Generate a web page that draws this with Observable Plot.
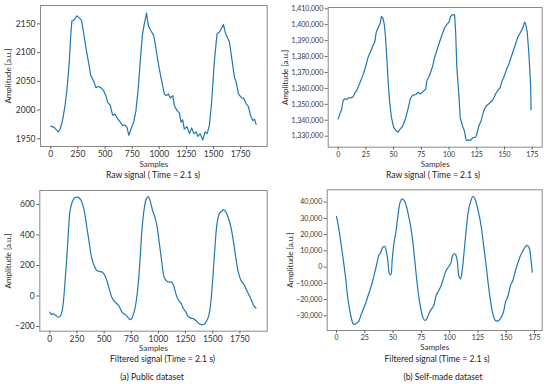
<!DOCTYPE html>
<html><head><meta charset="utf-8">
<script src="https://cdn.jsdelivr.net/npm/d3@7"></script>
<script src="https://cdn.jsdelivr.net/npm/@observablehq/plot@0.6"></script>
<style>
body{margin:0;background:#fff;}
#root{position:relative;width:550px;height:384px;font-family:Lato,"Open Sans",sans-serif;color:#222;overflow:hidden;}
.p{position:absolute;}
.cap{position:absolute;transform:translate(-50%,-50%);white-space:nowrap;font-size:8.6px;line-height:1;}
</style></head><body><div id="root"></div>
<script>
// ---- Data ----
const rawPubX = [0,31,68,86,108,129,148,169,185,194,215,240,265,283,302,323,345,369,394,416,437,462,486,508,523,548,570,591,616,640,662,683,702,720,739,764,785,807,825,844,862,883,899,923,948,960,979,1000,1022,1047,1062,1084,1102,1124,1139,1164,1185,1201,1216,1231,1256,1278,1299,1318,1339,1355,1376,1401,1422,1441,1462,1484,1508,1533,1555,1570,1592,1607,1626,1647,1669,1693,1709,1730,1755,1779,1801,1822,1841,1862,1878,1893];
const rawPubY = [1972,1970,1962,1967,1982,2005,2034,2080,2133,2155,2157,2164,2160,2156,2135,2109,2086,2060,2051,2039,2041,2039,2034,2025,2014,2008,1991,1993,1985,1979,1973,1974,1970,1956,1967,1979,1999,2040,2086,2130,2150,2169,2147,2138,2130,2118,2095,2072,2051,2028,2025,2028,2021,2025,2008,1999,1995,1979,1983,1967,1971,1959,1969,1959,1962,1954,1959,1948,1962,1959,1973,2017,2086,2133,2136,2141,2149,2136,2127,2118,2089,2057,2049,2028,2022,2020,2011,2006,1991,1982,1984,1975];

const rawSelfX = [0,1.5,3,4.5,6,7.5,9,11,13.2,15,17,18.6,21,23,25,27,29,31,33,34.3,36,38,39,40.3,41.5,42.7,44,45,46.6,48,50,52,54,56,58,60.7,63,65,67,70,72,74,76,79,80,82,85,87,89,91.4,94,96,98,100,101.3,103,105,106,107,109,110,112,113.7,115.5,117,119,121.5,124,125,127,129,130.5,132,134,136.5,139,140,142,144,146,148,150,152,154,156,158,160.6,162,164.5,166.6,168,169,170.5,172,173.5,174];
const rawSelfY = [1340900,1344000,1346600,1352400,1353500,1353000,1354100,1354100,1354500,1357000,1359100,1361800,1366000,1369600,1374400,1379600,1382800,1386300,1389100,1395300,1398100,1401000,1405200,1404300,1400600,1392200,1377500,1365000,1350300,1341900,1335700,1333600,1332500,1334600,1336100,1340900,1347200,1353500,1355600,1356200,1357600,1356600,1357600,1359700,1365000,1367500,1373400,1379600,1383800,1389100,1394300,1398100,1400200,1401600,1405200,1406200,1406200,1394300,1373400,1354500,1341900,1336700,1333600,1327300,1327700,1327300,1329000,1329400,1331500,1336700,1339900,1344000,1347200,1349300,1350700,1352400,1353500,1356600,1358700,1360400,1365000,1368100,1372300,1375400,1379600,1383800,1389100,1392200,1395300,1398100,1401600,1400600,1395300,1381700,1362900,1346600];

const filtPubX = [0,15,34,55,77,95,111,126,141,157,172,187,209,230,255,279,301,322,341,362,384,408,433,454,485,507,525,547,571,593,617,639,660,679,700,722,740,752,771,792,814,832,850,869,888,906,924,946,967,986,1007,1029,1053,1078,1099,1121,1139,1161,1182,1207,1231,1253,1274,1299,1324,1345,1367,1391,1416,1437,1459,1477,1499,1520,1539,1560,1582,1600,1621,1643,1667,1691,1714,1735,1760,1784,1806,1827,1852,1876,1898];
const filtPubY = [-106,-121,-117,-128,-139,-134,-106,-30,102,255,430,561,622,644,648,637,604,539,451,353,255,200,167,161,156,134,102,47,-8,-34,-51,-69,-100,-117,-124,-143,-156,-150,-117,-51,80,255,451,572,637,652,622,561,517,462,353,233,123,97,91,91,69,14,-25,-47,-84,-106,-134,-145,-150,-161,-178,-187,-187,-172,-139,-73,102,320,473,539,556,567,550,513,451,353,244,156,102,80,47,14,-19,-62,-80];

const filtSelfX = [0,2.1,3.8,5.9,8,9.7,11.5,13.3,14.7,16.2,17.7,19.7,21.5,23.3,25.6,28,30,32.1,33.9,36,37.4,39.2,41,42.7,44.2,45.7,46.8,48,49.2,50.7,52.7,54.5,56.3,58,59.8,61.6,63.3,65.4,67.5,69.2,71,72.8,74.5,76.3,78.1,79.8,81.6,84,86,88.1,90.5,92.5,94.9,96.9,99.3,101.1,102.2,103.7,105.2,106.7,108.1,109.6,111.1,112.6,114.6,116.4,118.4,120.5,122.3,124.3,126.4,128.2,130.2,132.3,134.1,136.1,138.2,140,142,144.1,146.4,147.9,149.4,151.7,153.8,155.9,158.2,160.6,162.6,164.7,167,168.8,170.6,171.8,173];
const filtSelfY = [31170,23580,15360,5100,-6190,-17480,-25700,-31860,-34930,-35340,-34520,-33290,-29800,-26720,-22620,-17480,-13380,-8250,-3110,3050,7150,9200,12280,12690,9200,2020,-4140,-4750,4070,14340,22550,32810,40000,42050,41030,37950,32810,25630,15360,4070,-8250,-18510,-25700,-30830,-32880,-31860,-28780,-25700,-23640,-17480,-14400,-11320,-6190,-2090,380,2430,6130,8180,7770,4070,-5170,-7220,-2090,8180,22550,33840,40000,43490,42050,37330,30760,23580,12280,990,-10300,-20560,-28780,-32470,-33290,-32470,-29800,-26720,-21590,-17480,-11320,-8250,-2090,3050,7150,9820,12690,13310,11260,5100,-3110];

const pubXTicks = [0,250,500,750,1000,1250,1500,1750];
const selfXTicks = [0,25,50,75,100,125,150,175];
const rawPubYTicks = [1950,2000,2050,2100,2150];
const rawSelfYTicks = [1330000,1340000,1350000,1360000,1370000,1380000,1390000,1400000,1410000];
const filtPubYTicks = [-200,0,200,400,600];
const filtSelfYTicks = [-30000,-20000,-10000,0,10000,20000,30000,40000];

const xLabel = "Samples";
const yLabel = "Amplitude [a.u.]";
const topCaption = "Raw signal ( Time = 2.1 s)";
const bottomCaption = "Filtered signal (Time = 2.1 s)";
const subCaptions = ["(a) Public dataset", "(b) Self-made dataset"];

// ---- Drawing ----
const root = document.getElementById("root");
const comma = d3.format(",");
const plain = d => String(d).replace("-", "\u2212");

function panel(o) {
  const data = o.x.map((d, i) => ({x: d, y: o.y[i]}));
  const svg = Plot.plot({
    width: 275, height: 170,
    marginLeft: o.m[0], marginTop: o.m[1], marginRight: o.m[2], marginBottom: o.m[3],
    style: {fontFamily: "Lato, 'Open Sans', sans-serif", fontSize: o.fs + "px", color: "#333", background: "transparent", overflow: "visible"},
    x: {domain: o.xd},
    y: {domain: o.yd},
    marks: [
      Plot.line(data, {x: "x", y: "y", stroke: "#1f77b4", strokeWidth: 1.2, curve: o.curve}),
      Plot.frame({stroke: "#8a8a8a", strokeWidth: 1}),
      Plot.axisX({ticks: o.xt, tickSize: 3, tickPadding: 1.5, stroke: "#666", tickFormat: plain, label: null}),
      Plot.axisX({ticks: [], label: xLabel, labelAnchor: "center", labelArrow: "none", labelOffset: o.lx, fontSize: 8}),
      Plot.axisY({ticks: o.yt, tickSize: 3, tickPadding: 2, stroke: "#666", tickFormat: o.fmt, label: null}),
      Plot.axisY({ticks: [], label: yLabel, labelAnchor: "center", labelArrow: "none", labelOffset: o.ly, fontSize: 8})
    ]
  });
  svg.classList.add("p");
  svg.style.left = o.left + "px";
  svg.style.top = o.top + "px";
  root.appendChild(svg);
}

function caption(text, cx, cy) {
  const d = document.createElement("div");
  d.className = "cap";
  d.textContent = text;
  d.style.left = cx + "px";
  d.style.top = cy + "px";
  root.appendChild(d);
}

panel({x: rawPubX, y: rawPubY, xd: [-95, 1995], yd: [1936.6, 2182], xt: pubXTicks, yt: rawPubYTicks,
  fmt: plain, left: 0, top: 0, m: [40, 5, 8.3, 24], fs: 8.5, curve: "linear", lx: 20.5, ly: 35});
panel({x: rawSelfX, y: rawSelfY, xd: [-9, 184], yd: [1323090, 1410800], xt: selfXTicks, yt: rawSelfYTicks,
  fmt: comma, left: 275, top: 0, m: [52.7, 7, 8.3, 23.3], fs: 7, curve: "linear", lx: 19.5, ly: 45.7});
panel({x: filtPubX, y: filtPubY, xd: [-92, 2001], yd: [-231, 692], xt: pubXTicks, yt: filtPubYTicks,
  fmt: plain, left: 0, top: 180, m: [39.3, 10, 8.3, 19.3], fs: 8.5, curve: "catmull-rom", lx: 19.5, ly: 34.3});
panel({x: filtSelfX, y: filtSelfY, xd: [-8.2, 181.8], yd: [-39050, 47600], xt: selfXTicks, yt: filtSelfYTicks,
  fmt: comma, left: 275, top: 180, m: [51.7, 9.3, 8.3, 20], fs: 7, curve: "catmull-rom", lx: 19, ly: 39.7});

caption(topCaption, 153, 174.8);
caption(topCaption, 433, 174.8);
caption(bottomCaption, 162.5, 358.8);
caption(bottomCaption, 437, 358.8);
caption(subCaptions[0], 152, 377);
caption(subCaptions[1], 443, 377);
</script></body></html>
